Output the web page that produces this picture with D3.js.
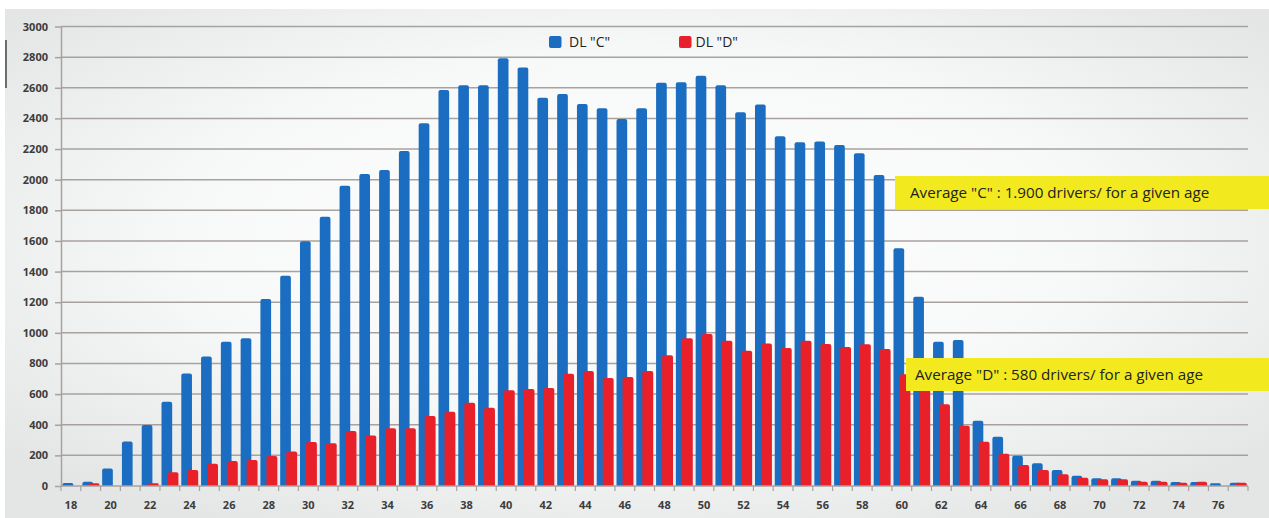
<!DOCTYPE html>
<html>
<head>
<meta charset="utf-8">
<script src="https://cdnjs.cloudflare.com/ajax/libs/d3/7.8.5/d3.min.js"></script>
<style>
  html, body { margin: 0; padding: 0; background: #ffffff; }
  svg { display: block; }
</style>
</head>
<body>
<script>
// ages on the x axis
var ages = [18, 19, 20, 21, 22, 23, 24, 25, 26, 27, 28, 29, 30, 31, 32, 33, 34, 35, 36, 37,
  38, 39, 40, 41, 42, 43, 44, 45, 46, 47, 48, 49, 50, 51, 52, 53, 54, 55, 56, 57,
  58, 59, 60, 61, 62, 63, 64, 65, 66, 67, 68, 69, 70, 71, 72, 73, 74, 75, 76, 77];

// DL "C" drivers per age
var valuesC = [20, 28, 115, 290, 398, 550, 735, 845, 942, 964, 1221, 1373, 1598, 1758, 1961, 2037, 2063, 2187, 2368, 2585,
  2616, 2616, 2792, 2733, 2535, 2559, 2494, 2466, 2396, 2466, 2633, 2636, 2679, 2616, 2440, 2490, 2283, 2244, 2250, 2226,
  2172, 2030, 1552, 1236, 942, 953, 426, 322, 198, 148, 104, 67, 50, 50, 35, 35, 26, 26, 18, 22];

// DL "D" drivers per age
var valuesD = [0, 18, 0, 0, 18, 89, 104, 146, 163, 170, 196, 226, 288, 279, 359, 329, 377, 377, 457, 485,
  544, 511, 625, 633, 640, 733, 751, 705, 712, 751, 853, 964, 992, 949, 883, 931, 901, 949, 927, 907,
  925, 894, 729, 640, 533, 394, 289, 211, 137, 104, 76, 54, 44, 44, 28, 28, 22, 28, 0, 22];

var yTicks = [0, 200, 400, 600, 800, 1000, 1200, 1400, 1600, 1800, 2000, 2200, 2400, 2600, 2800, 3000];
var xLabels = [18, 20, 22, 24, 26, 28, 30, 32, 34, 36, 38, 40, 42, 44, 46, 48, 50, 52, 54, 56, 58, 60, 62, 64, 66, 68, 70, 72, 74, 76];

var seriesNames = ['DL "C"', 'DL "D"'];
var notes = ['Average "C" : 1.900 drivers/ for a given age', 'Average "D" : 580 drivers/ for a given age'];

var width = 1269, height = 518;
var blue = "#1a6dc0", red = "#e8202a";

var svg = d3.select("body").append("svg").attr("width", width).attr("height", height);

// background
var defs = svg.append("defs");
var grad = defs.append("radialGradient").attr("id", "bg")
  .attr("cx", "50%").attr("cy", "45%").attr("r", "65%");
grad.append("stop").attr("offset", "0%").attr("stop-color", "#ffffff");
grad.append("stop").attr("offset", "55%").attr("stop-color", "#f7f8f8");
grad.append("stop").attr("offset", "100%").attr("stop-color", "#e4e6e6");

svg.append("rect").attr("x", 0).attr("y", 0).attr("width", width).attr("height", height).attr("fill", "#ffffff");
svg.append("rect").attr("x", 5).attr("y", 9).attr("width", width - 5).attr("height", height - 9).attr("fill", "url(#bg)");

// small stray mark at left edge
svg.append("line").attr("x1", 6).attr("x2", 6).attr("y1", 40).attr("y2", 88)
  .style("stroke", "#444").style("stroke-width", 1.5);

var x = d3.scaleBand().domain(ages).range([61, 1248]).paddingInner(0).paddingOuter(0);
var y = d3.scaleLinear().domain([0, 3000]).range([486, 26.5]);
var bw = x.bandwidth();

// gridlines
svg.append("g").attr("id", "grid").selectAll("line").data(yTicks.filter(function(d) { return d > 0; })).enter().append("line")
  .attr("x1", 61).attr("x2", 1248)
  .attr("y1", function(d) { return y(d); })
  .attr("y2", function(d) { return y(d); })
  .style("stroke", "#a8a29e").style("stroke-width", 1.5);

// y axis
var yAxis = svg.append("g").attr("transform", "translate(61,0)")
  .call(d3.axisLeft(y).tickValues(yTicks).tickFormat(d3.format("d")).tickSize(6).tickPadding(7).tickSizeOuter(0));
yAxis.select(".domain").style("stroke", "#a8a29e").style("stroke-width", 1.5);
yAxis.selectAll(".tick line").style("stroke", "#a8a29e").style("stroke-width", 1.5);
yAxis.selectAll("text").style("font-family", "Open Sans").style("font-weight", "700")
  .style("font-size", "11px").style("fill", "#3c3c3c");

// bars: top corners rounded
function barPath(x0, w, v) {
  var y0 = y(0), y1 = y(v), r = Math.min(2, (y0 - y1) / 2, w / 2);
  if (y0 - y1 <= 0) return "";
  return "M" + x0 + "," + y0 +
    "V" + (y1 + r) +
    "Q" + x0 + "," + y1 + " " + (x0 + r) + "," + y1 +
    "H" + (x0 + w - r) +
    "Q" + (x0 + w) + "," + y1 + " " + (x0 + w) + "," + (y1 + r) +
    "V" + y0 + "Z";
}

svg.append("g").attr("id", "barsC").selectAll("path").data(ages).enter().append("path")
  .attr("d", function(d, i) { return barPath(x(d) + bw * 0.08, bw * 0.54, valuesC[i]); })
  .attr("fill", blue);

svg.append("g").attr("id", "barsD").selectAll("path").data(ages).enter().append("path")
  .attr("d", function(d, i) { return barPath(x(d) + bw * 0.385, bw * 0.55, valuesD[i]); })
  .attr("fill", red);

// x axis
var xAxisG = svg.append("g").attr("transform", "translate(0,486)");
xAxisG.append("line").attr("x1", 61).attr("x2", 1248).attr("y1", 0).attr("y2", 0)
  .style("stroke", "#a8a29e").style("stroke-width", 1.5);
xAxisG.selectAll("line.tk").data(ages.concat(["end"])).enter().append("line")
  .attr("class", "tk")
  .attr("x1", function(d) { return d === "end" ? 1248 : x(d); })
  .attr("x2", function(d) { return d === "end" ? 1248 : x(d); })
  .attr("y1", 0).attr("y2", 5)
  .style("stroke", "#a8a29e").style("stroke-width", 1.2);
xAxisG.selectAll("text").data(xLabels).enter().append("text")
  .text(function(d) { return d; })
  .attr("x", function(d) { return x(d) + bw / 2; })
  .attr("y", 23)
  .attr("text-anchor", "middle")
  .style("font-family", "Open Sans").style("font-weight", "700")
  .style("font-size", "11px").style("fill", "#3c3c3c");

// legend
var legend = svg.append("g").attr("id", "legend");
var legendX = [549, 679];
legend.selectAll("rect").data(seriesNames).enter().append("rect")
  .attr("x", function(d, i) { return legendX[i]; })
  .attr("y", 36).attr("width", 12.5).attr("height", 12).attr("rx", 2)
  .attr("fill", function(d, i) { return i === 0 ? blue : red; });
legend.selectAll("text").data(seriesNames).enter().append("text")
  .text(function(d) { return d; })
  .attr("x", function(d, i) { return legendX[i] + (i === 0 ? 20 : 16.5); })
  .attr("y", 47)
  .style("font-family", "Open Sans").style("font-size", "14px").style("fill", "#222");

// average notes
var noteBox = [{x: 895, top: 176, bottom: 209}, {x: 906, top: 358, bottom: 391}];
var noteG = svg.append("g").attr("id", "notes");
noteG.selectAll("rect").data(notes).enter().append("rect")
  .attr("x", function(d, i) { return noteBox[i].x; })
  .attr("y", function(d, i) { return noteBox[i].top; })
  .attr("width", function(d, i) { return width - noteBox[i].x; })
  .attr("height", function(d, i) { return noteBox[i].bottom - noteBox[i].top; })
  .attr("fill", "#f2ea1e");
noteG.selectAll("text").data(notes).enter().append("text")
  .text(function(d) { return d; })
  .attr("x", function(d, i) { return noteBox[i].x + (i === 0 ? 15 : 9); })
  .attr("y", function(d, i) { return noteBox[i].top + 21.5; })
  .style("font-family", "Open Sans").style("font-size", "15.2px").style("fill", "#222");
</script>
</body>
</html>
